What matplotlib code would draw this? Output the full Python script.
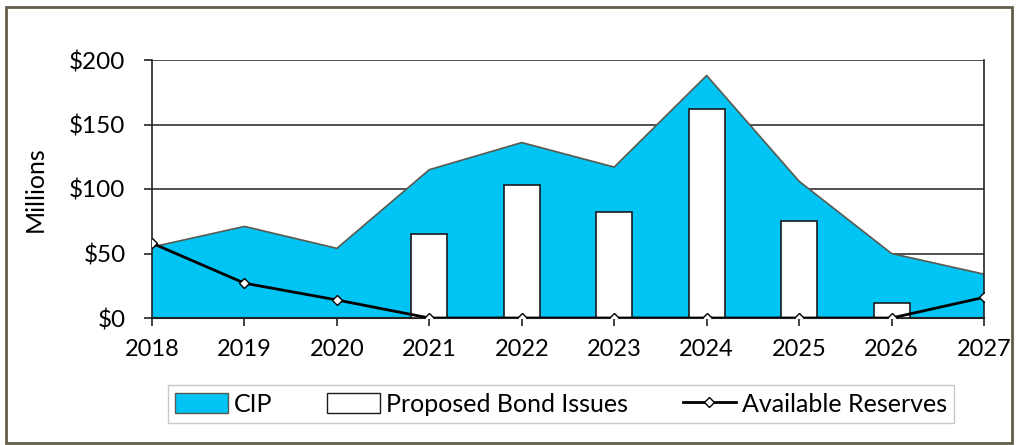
import matplotlib
matplotlib.use("Agg")
import matplotlib.pyplot as plt
from matplotlib.patches import Rectangle, Patch
from matplotlib.lines import Line2D
import numpy as np

years = ["2018", "2019", "2020", "2021", "2022", "2023", "2024", "2025", "2026", "2027"]
cip = [55, 71, 54, 115, 136, 117, 188, 106, 50, 34]
bonds = [0, 0, 0, 65, 103, 82, 162, 75, 12, 0]
reserves = [58, 27, 14, 0, 0, 0, 0, 0, 0, 16]
yticks = [0, 50, 100, 150, 200]
ytick_labels = ["$0", "$50", "$100", "$150", "$200"]

plt.rcParams['font.family'] = ['Lato', 'DejaVu Sans']

W, H = 1019, 445
fig = plt.figure(figsize=(W / 100, H / 100), dpi=100)
fig.patch.set_facecolor('white')

# outer border
fig.patches.append(Rectangle((6 / W, 1 - 443 / H), (1012 - 6) / W, (443 - 7) / H,
                             transform=fig.transFigure, fill=False,
                             edgecolor='#625d4a', linewidth=2))

ax = fig.add_axes([152 / W, 1 - 318 / H, (984 - 152) / W, (318 - 60) / H])
x = np.arange(len(years))

ax.fill_between(x, cip, 0, facecolor='#00c4f4', edgecolor='none', zorder=2)
ax.plot(x, cip, color='#5a5a50', linewidth=1.2, zorder=2.5)

bx = [xi for xi, b in zip(x, bonds) if b > 0]
bv = [b for b in bonds if b > 0]
ax.bar(bx, bv, width=0.39, facecolor='white', edgecolor='#1a1a1a', linewidth=1.2, zorder=3)

ax.plot(x, reserves, color='black', linewidth=2, marker='D', markersize=5,
        markerfacecolor='white', markeredgecolor='black', markeredgewidth=1, zorder=4)

ax.set_xlim(0, len(years) - 1)
ax.set_ylim(0, 200)
ax.set_yticks(yticks)
ax.set_yticklabels(ytick_labels)
ax.set_xticks(x)
ax.set_xticklabels(years)
ax.yaxis.grid(True, color='#333333', linewidth=1.2, zorder=1)
ax.set_axisbelow(True)
ax.spines['top'].set_visible(False)
for s in ['left', 'right', 'bottom']:
    ax.spines[s].set_color('#222222')
ax.spines['left'].set_linewidth(1.2)
ax.spines['right'].set_linewidth(1.2)
ax.spines['bottom'].set_linewidth(1.5)
ax.tick_params(axis='y', length=6, width=1.2, labelsize=17.5, pad=13, colors='#222222', labelcolor='black')
ax.tick_params(axis='x', length=6, width=1.2, labelsize=17, pad=9, colors='#222222', labelcolor='black')
ax.set_ylabel("Millions", fontsize=18, labelpad=16)

handles = [Patch(facecolor='#00c4f4', edgecolor='#5a5a50', linewidth=1),
           Patch(facecolor='white', edgecolor='#1a1a1a', linewidth=1),
           Line2D([0], [0], color='black', linewidth=2, marker='D', markersize=5,
                  markerfacecolor='white', markeredgecolor='black')]
leg = fig.legend(handles, ["CIP", "Proposed Bond Issues", "Available Reserves"],
                 loc='center', bbox_to_anchor=(561 / W, 1 - 404 / H), ncol=3,
                 fontsize=18, frameon=True, fancybox=False, borderpad=0.3,
                 columnspacing=2.2, handlelength=2.1, handleheight=0.9, handletextpad=0.25)
leg.get_frame().set_edgecolor('#bbbbbb')
leg.get_frame().set_linewidth(1)

fig.savefig("out.png", dpi=100)
